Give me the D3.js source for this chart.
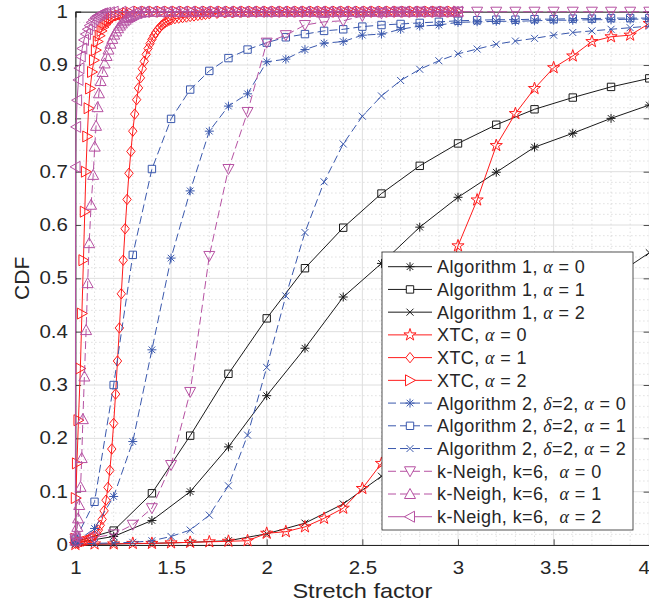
<!DOCTYPE html>
<html>
<head>
<meta charset="utf-8">
<script src="https://cdn.jsdelivr.net/npm/d3@7"></script>
<style>
body { margin: 0; background: #fff; }
svg text { font-family: "Liberation Sans", Arial, sans-serif; fill: #262626; }
</style>
</head>
<body>
<div id="drawArea"></div>
<script>
// x positions of the sparse series
var alg1X = [1.0,1.2,1.4,1.6,1.8,2.0,2.2,2.4,2.6,2.8,3.0,3.2,3.4,3.6,3.8,4.0];
var stepX = [1.0,1.1,1.2,1.3,1.4,1.5,1.6,1.7,1.8,1.9,2.0,2.1,2.2,2.3,2.4,2.5,2.6,2.7,2.8,2.9,3.0,3.1,3.2,3.3,3.4,3.5,3.6,3.7,3.8,3.9,4.0];

// Algorithm 1
var alg1a0 = [0.004,0.016,0.046,0.100,0.184,0.280,0.369,0.465,0.528,0.596,0.652,0.699,0.746,0.772,0.800,0.825];
var alg1a1 = [0.006,0.027,0.097,0.205,0.321,0.425,0.519,0.595,0.659,0.711,0.753,0.788,0.817,0.839,0.859,0.875];
var alg1a2 = [0.001,0.002,0.003,0.005,0.008,0.021,0.041,0.077,0.129,0.190,0.255,0.320,0.385,0.445,0.500,0.548];

// XTC
var xtc0 = [0.001,0.002,0.002,0.003,0.003,0.004,0.005,0.006,0.007,0.008,
            0.022,0.025,0.034,0.050,0.069,0.106,0.153,0.220,0.310,0.430,
            0.561,0.647,0.749,0.809,0.856,0.895,0.917,0.944,0.953,0.956,0.978];
var xtc1X = [1.00,1.01,1.02,1.03,1.04,1.05,1.06,1.07,1.08,1.09,1.10,1.11,1.12,1.13,1.14,1.15,1.16,1.17,1.18,1.19,
             1.20,1.21,1.22,1.23,1.24,1.25,1.26,1.27,1.28,1.29,1.30,1.31,1.32,1.33,1.34,1.35,1.36,1.37,1.38,1.39,
             1.40,1.41,1.42,1.43,1.44,1.45,1.46,1.47,1.48,1.49,1.50,1.52,1.54,1.56,1.58,1.60,1.62,1.64,1.66,1.68,1.70,
             1.74,1.78,1.82,1.86,1.90,1.94,1.98,2.02,2.06,2.10,2.14,2.18,2.22,2.26,2.30,2.34,2.38,2.42,2.46,2.50,
             2.54,2.58,2.62,2.66,2.70,2.74,2.78,2.82,2.86,2.90,2.94,2.98];
var xtc1 = [0.003,0.004,0.005,0.006,0.007,0.008,0.009,0.011,0.013,0.015,0.018,0.022,0.028,0.037,0.048,0.064,0.084,0.108,0.140,0.180,
            0.228,0.283,0.345,0.407,0.471,0.534,0.593,0.648,0.697,0.738,0.776,0.808,0.835,0.857,0.876,0.893,0.907,0.920,0.931,0.940,
            0.948,0.955,0.961,0.966,0.970,0.974,0.977,0.980,0.982,0.984,0.985,0.987,0.988,0.989,0.990,0.991,0.992,0.993,0.994,0.995,0.996,
            0.997,0.998,0.998,0.999,0.999,1,1,1,1,1,1,1,1,1,1,1,1,1,1,1,
            1,1,1,1,1,1,1,1,1,1,1,1];
var xtc2X = [1.000,1.002,1.008,1.016,1.026,1.034,1.042,1.049,1.055,1.062,1.069,1.077,1.087,1.097,1.107,1.117,1.127,1.137,1.147,1.157,
             1.167,1.177,1.187,1.197,1.21,1.23,1.25,1.27,1.29,
             1.33,1.37,1.41,1.45,1.49,1.53,1.57,1.61,1.65,1.69,1.73,1.77,1.81,1.85,1.89,1.93,1.97,2.01,2.05,2.09,2.13,
             2.17,2.21,2.25,2.29,2.33,2.37,2.41,2.45,2.49,2.53,2.57,2.61,2.65,2.69,2.73,2.77,2.81,2.85,2.89,2.93,2.97,3.00];
var xtc2 = [0.012,0.088,0.153,0.234,0.331,0.434,0.534,0.625,0.700,0.766,0.819,0.856,0.887,0.909,0.928,0.944,0.955,0.964,0.971,0.976,
            0.980,0.984,0.987,0.989,0.991,0.993,0.995,0.997,0.998,
            1,1,1,1,1,1,1,1,1,1,1,1,1,1,1,1,1,1,1,1,1,
            1,1,1,1,1,1,1,1,1,1,1,1,1,1,1,1,1,1,1,1,1,1];

// Algorithm 2, delta = 2
var alg2a0 = [0.005,0.031,0.091,0.194,0.366,0.538,0.664,0.776,0.823,0.846,
              0.906,0.911,0.929,0.941,0.944,0.956,0.958,0.967,0.973,0.975,
              0.980,0.981,0.982,0.982,0.983,0.984,0.984,0.985,0.985,0.986,0.986];
var alg2a1 = [0.010,0.081,0.300,0.544,0.705,0.799,0.854,0.889,0.913,0.929,
              0.942,0.952,0.958,0.964,0.967,0.972,0.975,0.977,0.979,0.981,
              0.983,0.984,0.985,0.985,0.986,0.986,0.987,0.987,0.988,0.988,0.988];
var alg2a2 = [0.002,0.003,0.004,0.005,0.008,0.016,0.028,0.056,0.111,0.206,
              0.333,0.467,0.586,0.681,0.752,0.804,0.842,0.871,0.892,0.908,
              0.921,0.930,0.939,0.945,0.950,0.956,0.961,0.964,0.967,0.970,0.973];

// k-Neigh, k = 6
var kn0 = [0.012,0.014,0.020,0.038,0.069,0.150,0.287,0.542,0.705,0.812,
           0.942,0.956,0.975,0.981,0.983,0.992,0.997,1,1,1,
           1,1,1,1,1,1,1,1,1,1,1];
var kn1X = [1.000,1.005,1.010,1.014,1.020,1.027,1.033,1.039,1.047,1.056,1.064,1.072,1.082,1.093,1.101,1.108,1.116,1.123,1.132,1.142,
            1.153,1.163,1.173,1.183,1.193,1.203,1.213,1.223,1.233,1.243,1.253,1.263,1.273,1.283,1.293,1.303,1.32,1.34,1.36,
            1.38,1.42,1.46,1.50,1.54,1.58,1.62,1.66,1.70,1.74,1.78,1.82,1.86,1.90,1.94,1.98,2.02,2.06,2.10,2.14,
            2.18,2.22,2.26,2.30,2.34,2.38,2.42,2.46,2.50,2.54,2.58,2.62,2.66,2.70,2.74,2.78,2.82,2.86,2.90,2.94,2.98,3.00];
var kn1 = [0.008,0.020,0.034,0.050,0.075,0.109,0.163,0.236,0.316,0.403,0.491,0.566,0.638,0.694,0.747,0.786,0.821,0.847,0.870,0.887,
           0.903,0.917,0.929,0.940,0.949,0.957,0.963,0.969,0.974,0.978,0.982,0.985,0.988,0.990,0.992,0.994,0.996,0.998,0.999,
           1,1,1,1,1,1,1,1,1,1,1,1,1,1,1,1,1,1,1,1,
           1,1,1,1,1,1,1,1,1,1,1,1,1,1,1,1,1,1,1,1,1,1];
var kn2X = [1.000,1.001,1.004,1.009,1.016,1.021,1.028,1.036,1.045,1.055,1.065,1.075,1.085,1.095,1.105,1.115,1.125,1.135,1.145,1.16,1.18,
            1.20,1.24,1.28,1.32,1.36,1.40,1.44,1.48,1.52,1.56,1.60,1.64,1.68,1.72,1.76,1.80,1.84,1.88,1.92,1.96,
            2.00,2.04,2.08,2.12,2.16,2.20,2.24,2.28,2.32,2.36,2.40,2.44,2.48,2.52,2.56,2.60,2.64,2.68,2.72,2.76,
            2.80,2.84,2.88,2.92,2.96,3.00];
var kn2 = [0.015,0.709,0.784,0.834,0.872,0.894,0.916,0.931,0.947,0.958,0.967,0.974,0.980,0.985,0.989,0.992,0.994,0.996,0.997,0.998,0.999,
           1,1,1,1,1,1,1,1,1,1,1,1,1,1,1,1,1,1,1,1,
           1,1,1,1,1,1,1,1,1,1,1,1,1,1,1,1,1,1,1,1,
           1,1,1,1,1,1];

var xTicks = [1,1.5,2,2.5,3,3.5,4];
var yTicks = [0,0.1,0.2,0.3,0.4,0.5,0.6,0.7,0.8,0.9,1];

var cBlack = "#1a1a1a", cRed = "#ff1c1c", cBlue = "#3a58ad", cMag = "#b651a2";

var series = [
  {name:"Algorithm 1, α = 0", xs:alg1X, ys:alg1a0, color:cBlack, dash:null, marker:"asterisk"},
  {name:"Algorithm 1, α = 1", xs:alg1X, ys:alg1a1, color:cBlack, dash:null, marker:"square"},
  {name:"Algorithm 1, α = 2", xs:alg1X, ys:alg1a2, color:cBlack, dash:null, marker:"cross"},
  {name:"XTC, α = 0", xs:stepX, ys:xtc0, color:cRed, dash:null, marker:"star"},
  {name:"XTC, α = 1", xs:xtc1X, ys:xtc1, color:cRed, dash:null, marker:"diamond"},
  {name:"XTC, α = 2", xs:xtc2X, ys:xtc2, color:cRed, dash:null, marker:"triRight"},
  {name:"Algorithm 2, δ=2, α = 0", xs:stepX, ys:alg2a0, color:cBlue, dash:"8,4", marker:"asterisk"},
  {name:"Algorithm 2, δ=2, α = 1", xs:stepX, ys:alg2a1, color:cBlue, dash:"8,4", marker:"square"},
  {name:"Algorithm 2, δ=2, α = 2", xs:stepX, ys:alg2a2, color:cBlue, dash:"8,4", marker:"cross"},
  {name:"k-Neigh, k=6,  α = 0", xs:stepX, ys:kn0, color:cMag, dash:"8,4", marker:"triDown"},
  {name:"k-Neigh, k=6,  α = 1", xs:kn1X, ys:kn1, color:cMag, dash:"8,4", marker:"triUp"},
  {name:"k-Neigh, k=6,  α = 2", xs:kn2X, ys:kn2, color:cMag, dash:null, marker:"triLeft"}
];

function markerPath(type) {
  switch (type) {
    case "square": return "M-3.7,-3.7H3.7V3.7H-3.7Z";
    case "diamond": return "M0,-5.2L4.2,0L0,5.2L-4.2,0Z";
    case "triUp": return "M0,-5.5L5.5,4.5L-5.5,4.5Z";
    case "triDown": return "M0,5.5L5.5,-4.5L-5.5,-4.5Z";
    case "triRight": return "M5.5,0L-4.5,5.5L-4.5,-5.5Z";
    case "triLeft": return "M-5.5,0L4.5,5.5L4.5,-5.5Z";
    case "cross": return "M-3.5,-3.5L3.5,3.5M-3.5,3.5L3.5,-3.5";
    case "asterisk": return "M-4.5,0H4.5M0,-4.5V4.5M-3.3,-3.3L3.3,3.3M-3.3,3.3L3.3,-3.3";
    case "star": return d3.symbol(d3.symbolStar, 46)();
  }
}

// widen a text to k times its natural length (the reference font runs wide)
function widen(sel, k) {
  sel.each(function() {
    var w = this.getComputedTextLength();
    d3.select(this).attr("textLength", w * k).attr("lengthAdjust", "spacingAndGlyphs");
  });
}

var margin = {top: 11.7, right: 0, bottom: 57, left: 75.4},
    width = 573.9,
    height = 533.3;

var svg = d3.select("#drawArea").append("svg")
  .attr("width", 649).attr("height", 602);

var g = svg.append("g")
  .attr("transform", "translate(" + margin.left + "," + margin.top + ")");

var x = d3.scaleLinear().domain([1, 4]).range([0, width]);
var y = d3.scaleLinear().domain([0, 1]).range([height, 0]);

// minor grid (dotted)
var minorX = d3.range(1.1, 4, 0.1).filter(function(v){ return Math.abs(v*2 - Math.round(v*2)) > 0.01; });
var minorY = d3.range(0.02, 1, 0.02).filter(function(v){ return Math.abs(v*10 - Math.round(v*10)) > 0.01; });
g.append("g").selectAll("line").data(minorX).enter().append("line")
  .attr("x1", function(d){ return x(d); }).attr("x2", function(d){ return x(d); })
  .attr("y1", 0).attr("y2", height)
  .attr("stroke", "#c4c4c4").attr("stroke-width", 0.8).attr("stroke-dasharray", "1,3");
g.append("g").selectAll("line").data(minorY).enter().append("line")
  .attr("y1", function(d){ return y(d); }).attr("y2", function(d){ return y(d); })
  .attr("x1", 0).attr("x2", width)
  .attr("stroke", "#c4c4c4").attr("stroke-width", 0.8).attr("stroke-dasharray", "1,3");

// major grid
g.append("g").selectAll("line").data(xTicks).enter().append("line")
  .attr("x1", function(d){ return x(d); }).attr("x2", function(d){ return x(d); })
  .attr("y1", 0).attr("y2", height)
  .attr("stroke", "#dedede").attr("stroke-width", 1);
g.append("g").selectAll("line").data(yTicks).enter().append("line")
  .attr("y1", function(d){ return y(d); }).attr("y2", function(d){ return y(d); })
  .attr("x1", 0).attr("x2", width)
  .attr("stroke", "#dedede").attr("stroke-width", 1);

// axes (ticks pointing inward)
var xAxis = g.append("g").attr("transform", "translate(0," + height + ")")
  .call(d3.axisBottom(x).tickValues(xTicks).tickFormat(d3.format("")).tickSize(-5.7).tickPadding(16.5));
var yAxis = g.append("g")
  .call(d3.axisLeft(y).tickValues(yTicks).tickFormat(d3.format("")).tickSize(-5.7).tickPadding(7.5));
g.append("g").call(d3.axisTop(x).tickValues(xTicks).tickFormat("").tickSize(-5.7));
g.append("g").attr("transform", "translate(" + width + ",0)")
  .call(d3.axisRight(y).tickValues(yTicks).tickFormat("").tickSize(-5.7));
g.selectAll(".domain").attr("stroke", "#262626").attr("stroke-width", 1);
g.selectAll(".tick line").attr("stroke", "#262626").attr("stroke-width", 0.8);
g.selectAll(".tick text").attr("font-size", 17.5).attr("fill", "#262626")
  .style("font-family", "'Liberation Sans', Arial, sans-serif");
widen(g.selectAll(".tick text"), 1.17);
// the last x label sits inside the picture's right edge
xAxis.selectAll(".tick text").filter(function(d){ return d === 4; })
  .attr("text-anchor", "end").attr("x", 0);

// series
var line = d3.line().x(function(d){ return x(d[0]); }).y(function(d){ return y(d[1]); });
series.forEach(function(s) {
  var pts = s.xs.map(function(v, i){ return [v, s.ys[i]]; });
  g.append("path").datum(pts)
    .attr("d", line).attr("fill", "none")
    .attr("stroke", s.color).attr("stroke-width", 1)
    .attr("stroke-dasharray", s.dash);
  g.append("g").selectAll("path").data(pts).enter().append("path")
    .attr("transform", function(d){ return "translate(" + x(d[0]) + "," + y(d[1]) + ")"; })
    .attr("d", markerPath(s.marker))
    .attr("fill", "none").attr("stroke", s.color).attr("stroke-width", 1);
});

// axis labels
var xl = svg.append("text").attr("x", margin.left + width / 2).attr("y", 598)
  .attr("text-anchor", "middle").attr("font-size", 21).text("Stretch factor");
widen(xl, 1.12);
svg.append("text").attr("transform", "translate(29," + (margin.top + height / 2) + ") rotate(-90)")
  .attr("text-anchor", "middle").attr("font-size", 21).text("CDF");

// legend
var leg = svg.append("g");
leg.append("rect").attr("x", 382).attr("y", 252).attr("width", 251).attr("height", 278)
  .attr("fill", "#fff").attr("stroke", "#262626").attr("stroke-width", 0.8);
series.forEach(function(s, i) {
  var ly = 266.7 + i * 22.73;
  leg.append("line").attr("x1", 388).attr("x2", 432).attr("y1", ly).attr("y2", ly)
    .attr("stroke", s.color).attr("stroke-width", 1).attr("stroke-dasharray", s.dash);
  leg.append("path").attr("transform", "translate(410," + ly + ")")
    .attr("d", markerPath(s.marker)).attr("fill", "#fff").attr("stroke", s.color).attr("stroke-width", 1);
  var t = leg.append("text").attr("x", 437).attr("y", ly).attr("dy", "0.36em")
    .attr("font-size", 18).attr("letter-spacing", 0.4);
  s.name.split(/([αδ])/).forEach(function(part) {
    if (part === "α" || part === "δ") {
      t.append("tspan").attr("font-style", "italic")
        .style("font-family", "'Liberation Serif', 'Times New Roman', serif").text(part);
    } else if (part.length) {
      t.append("tspan").attr("xml:space", "preserve").style("white-space", "pre").text(part);
    }
  });
});
</script>
</body>
</html>
